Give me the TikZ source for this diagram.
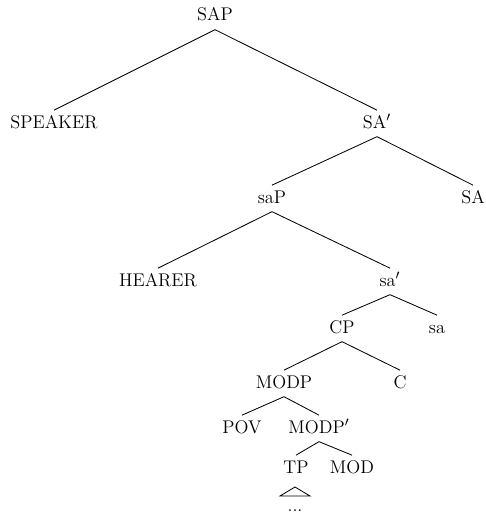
\documentclass[tikz,border=0pt]{standalone}
\begin{document}
\begin{tikzpicture}[x=0.6pt,y=-0.6pt,
  lbl/.style={font=\fontsize{11}{13}\selectfont, inner xsep=0pt, inner ysep=3pt,
              text height=7.5pt, text depth=2pt, anchor=base},
  branch/.style={line width=0.5pt}]
\useasboundingbox (0,0) rectangle (486,514);

% labels of the tree, placed on their baselines
\node[lbl] (sap)     at (215,21)  {SAP};
\node[lbl] (speaker) at (54,128)  {SPEAKER};
\node[lbl] (sabar)   at (377,128) {SA$'$};
\node[lbl] (saP)     at (272,203) {saP};
\node[lbl] (SA)      at (473,203) {SA};
\node[lbl] (hearer)  at (158,286) {HEARER};
\node[lbl] (sab)     at (390,286) {sa$'$};
\node[lbl] (cp)      at (342,333) {CP};
\node[lbl] (sa)      at (437,333) {sa};
\node[lbl] (modp)    at (284,388) {MODP};
\node[lbl] (c)       at (400,388) {C};
\node[lbl] (pov)     at (242,433) {POV};
\node[lbl] (modpb)   at (319,433) {MODP$'$};
\node[lbl] (tp)      at (296,473) {TP};
\node[lbl] (mod)     at (352,473) {MOD};
\node[lbl, inner ysep=0pt] (dots) at (295,511) {...};

% branches
\draw[branch] (sap.south)   -- (speaker.north);
\draw[branch] (sap.south)   -- (sabar.north);
\draw[branch] (sabar.south) -- (saP.north);
\draw[branch] (sabar.south) -- (SA.north);
\draw[branch] (saP.south)   -- (hearer.north);
\draw[branch] (saP.south)   -- (sab.north);
\draw[branch] (sab.south)   -- (cp.north);
\draw[branch] (sab.south)   -- (sa.north);
\draw[branch] (cp.south)    -- (modp.north);
\draw[branch] (cp.south)    -- (c.north);
\draw[branch] (modp.south)  -- (pov.north);
\draw[branch] (modp.south)  -- (modpb.north);
\draw[branch] (modpb.south) -- (tp.north);
\draw[branch] (modpb.south) -- (mod.north);

% roof over the elided material
\coordinate (roof) at (295,487);
\draw[branch] (roof) -- ++(-15,9) -- ++(30,0) -- cycle;
\end{tikzpicture}
\end{document}
